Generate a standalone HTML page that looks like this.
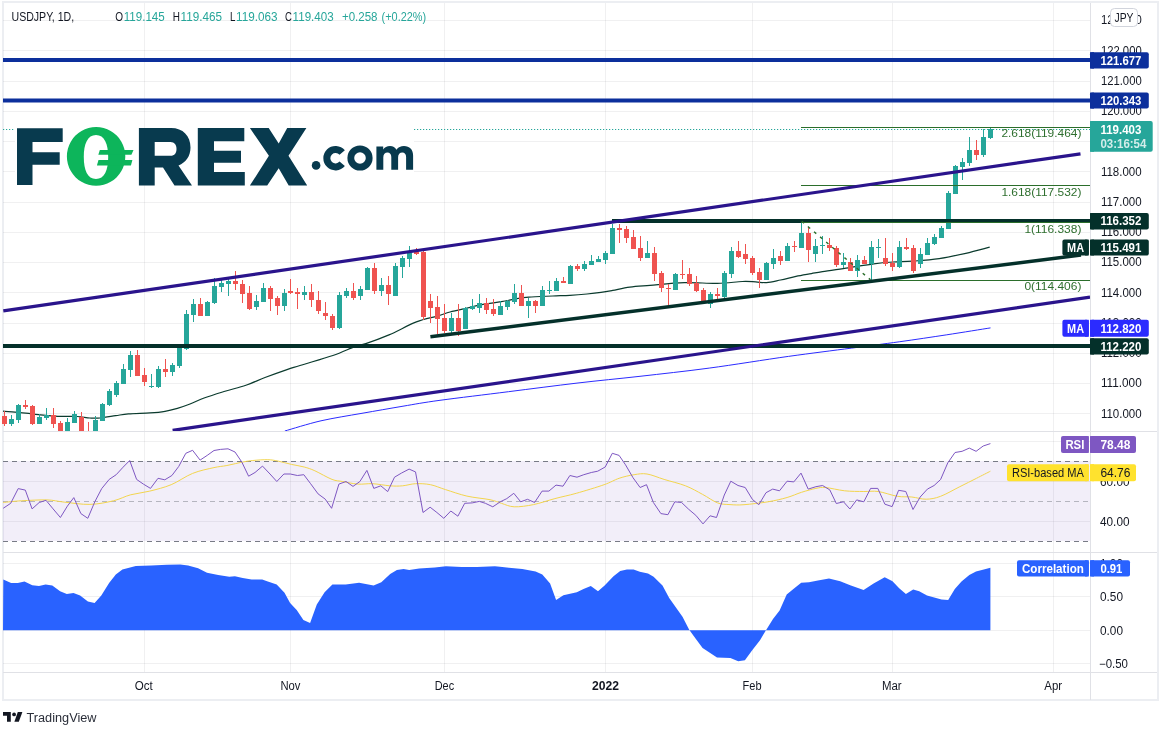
<!DOCTYPE html>
<html><head><meta charset="utf-8"><style>html,body{margin:0;padding:0;background:#fff;overflow:hidden}svg{display:block;will-change:transform}</style></head>
<body><svg width="1168" height="735" viewBox="0 0 1168 735" font-family='"Liberation Sans", sans-serif'><rect width="1168" height="735" fill="#fff"/><rect x="3" y="2" width="1155" height="698" fill="none" stroke="#eceef2" stroke-width="2"/><path d="M3 413.5H1090 M3 383.5H1090 M3 353.5H1090 M3 323.5H1090 M3 292.5H1090 M3 262.5H1090 M3 232.5H1090 M3 202.5H1090 M3 171.5H1090 M3 141.5H1090 M3 111.5H1090 M3 81.5H1090 M3 50.5H1090 M3 20.5H1090 M3 441.5H1090 M3 481.5H1090 M3 521.5H1090 M3 563.5H1090 M3 596.5H1090 M3 630.5H1090 M3 663.5H1090 M144.5 3V672 M290.5 3V672 M444.5 3V672 M605.5 3V672 M752.5 3V672 M892.5 3V672 M1053.5 3V672" stroke="rgba(42,46,57,0.07)" stroke-width="1" fill="none"/><rect x="3" y="461" width="1087" height="80" fill="#7e57c2" fill-opacity="0.1"/><path d="M3 461.5H1090 M3 541.5H1090" stroke="#787b86" stroke-width="1" stroke-dasharray="5 4" fill="none"/><path d="M3 501.5H1090" stroke="#787b86" stroke-opacity="0.5" stroke-width="1" stroke-dasharray="5 4" fill="none"/><path d="M3 630.2 L3.3 579.6 L11.1 583 L17.8 583 L24.5 581.6 L32.3 585.2 L39 586.1 L45.6 584.5 L52.3 585.6 L60.1 591.2 L66.8 594.1 L73.5 593 L80.1 595.6 L87.9 601.6 L94.6 603 L101.3 595.6 L109.1 583 L115.8 574.5 L122.4 569.6 L135.8 566 L151.4 565.6 L167 564.7 L180.3 564.5 L188.1 565.6 L198.1 568.3 L207 572.7 L218.2 574.9 L229.3 576.7 L234.9 576.3 L242.7 578 L251.6 579.4 L262.2 579.6 L267.8 581.6 L276.7 584.5 L284.5 592.7 L290.1 603 L296.7 610.1 L303.4 620.1 L310.1 623 L316.8 604.5 L324.6 592.3 L332.4 584.5 L345.7 584.5 L359.1 582.7 L373.6 585.6 L381.3 582.3 L390.2 574 L396.9 570 L403.6 568.9 L409.2 570 L419.2 568.5 L434.8 567.4 L445.9 566.3 L461.5 566.9 L477.1 566.9 L494.9 566.3 L500 566.7 L508.9 567.8 L522.3 568.9 L535.6 571.6 L542.3 574.5 L550.1 583.4 L556.1 600.1 L563.4 595.2 L576.8 592.3 L583.5 589 L590.8 586.1 L598 591.2 L604.6 585.6 L613.5 576.3 L620.2 571.1 L626.9 569.4 L633.6 569.6 L639.8 571.8 L648 573.4 L653.6 576.7 L662.5 585.6 L669.2 597.9 L682.5 616.8 L689.2 629.7 L695.9 639 L702.6 648 L717 657.5 L730.4 658 L738.2 661.3 L744.9 660.2 L752.2 650.2 L760 640.2 L766.3 629.7 L773 619 L779.6 610.6 L786.7 594.5 L793.4 589 L801.2 582.7 L809 582.3 L817.9 580.5 L829 578.5 L840.2 581.2 L850.2 585.2 L863.6 590.1 L873.6 583.4 L884.7 577.2 L892.5 581.2 L899.2 588.3 L905.9 594.1 L913.2 589.4 L919.2 591.2 L927 595.6 L941.5 599.4 L948.2 600.1 L954.8 589 L961.5 581.6 L969.3 574.9 L976 571.6 L983.8 569.6 L990.4 567.8 L990.4 630.2 Z" fill="#2962ff"/><path d="M3.2 502.5C6.2 502.2 14.1 501.2 21.4 500.8C28.7 500.4 39.9 499.7 47 499.9C54.1 500.1 57.1 501.4 64.2 502.1C71.4 502.9 81.7 504.6 89.9 504.4C98.1 504.2 106.6 502.4 113.4 500.8C120.2 499.2 124.5 496.4 130.6 494.8C136.7 493.2 143.0 492.8 149.8 491.1C156.6 489.4 164.1 487.6 171.2 484.7C178.3 481.8 185.5 476.2 192.6 473.4C199.7 470.5 208.3 468.9 214 467.6C219.7 466.3 221.9 466.5 226.9 465.5C231.9 464.5 239.7 462.6 244 461.8C248.3 461.0 248.8 460.9 252.8 460.5C256.8 460.1 263.5 459.6 267.8 459.7C272.1 459.8 274.6 460.4 278.5 461.2C282.4 462.0 287.1 463.4 291.4 464.4C295.7 465.4 300.3 465.9 304.2 467C308.1 468.1 310.3 468.7 314.9 470.8C319.5 472.9 327.4 477.6 332 479.4C336.6 481.2 338.4 480.7 342.7 481.5C347.0 482.3 352.7 483.7 357.7 484.1C362.7 484.5 367.3 483.4 372.7 483.7C378.1 484.0 384.8 485.4 389.8 485.8C394.8 486.2 398.4 486.2 402.7 485.8C407.0 485.4 410.9 483.9 415.5 483.7C420.1 483.5 425.5 483.7 430.5 484.7C435.5 485.7 439.4 487.7 445.5 489.6C451.6 491.5 459.5 494.4 466.9 496.1C474.3 497.8 484.2 498.5 490 499.7C495.8 500.9 497.4 502.1 501.4 503.3C505.4 504.5 508.9 506.6 514.2 506.8C519.6 507.0 526.7 506.0 533.5 504.6C540.3 503.2 547.8 500.5 554.9 498.6C562.0 496.7 568.1 495.6 576.3 493.3C584.5 491.0 597.0 487.2 604.1 484.7C611.2 482.2 614.1 480.0 619.1 478.3C624.1 476.6 629.5 475.4 634.1 474.7C638.8 474.0 642.0 473.2 647 474C652.0 474.8 657.7 477.4 664.1 479.4C670.5 481.4 679.1 483.3 685.5 485.8C691.9 488.3 697.2 491.5 702.6 494.4C708.0 497.2 713.0 501.2 717.6 502.9C722.2 504.6 725.6 504.3 730 504.6C734.4 504.9 737.7 505.2 744 504.7C750.3 504.2 760.8 503.0 768 501.8C775.2 500.6 781.5 499.1 787.1 497.5C792.7 495.9 796.7 493.8 801.5 492.3C806.3 490.8 811.9 489.2 815.9 488.4C819.9 487.6 820.7 487.1 825.5 487.5C830.3 487.9 838.3 490.1 844.7 490.8C851.1 491.5 858.2 491.4 863.8 491.5C869.4 491.6 872.6 490.7 878.2 491.5C883.8 492.3 891.8 495.4 897.4 496.3C903.0 497.2 907.0 496.5 911.8 497C916.6 497.5 921.4 499.3 926.2 499.2C931.0 499.1 935.0 498.4 940.6 496.3C946.2 494.2 953.8 489.7 959.8 486.7C965.8 483.7 971.4 480.9 976.5 478.3C981.6 475.7 988.1 472.4 990.4 471.2" fill="none" stroke="#f2d54e" stroke-width="1"/><polyline points="3.2,508.3 10.7,503.3 18.2,488.6 25.3,490.1 32.1,508.9 39.2,502.5 46,500.3 53.1,508.9 60.4,517.5 67.4,506.1 73.8,497.6 80.9,513.6 87.8,518.3 94.8,501.8 101.7,488.6 109.2,479.4 116.2,474.7 123.1,467.2 129.7,460.5 136.6,479.4 143.4,484.1 150.5,488.4 158,478.3 164.8,479.8 171.9,475.5 178.7,466.5 185.8,453.3 192.6,450.3 200.1,460.1 207.2,455.4 214,450.5 220.5,449.4 228,448.8 235,452 241.9,462.2 248.6,476.2 255,472.5 262.5,466.1 270,474 276.8,481.5 283.9,474 290.3,474 297.4,475.5 303.8,474.7 310.6,483.7 318.1,493.9 325.2,499.1 331.6,508.3 338.9,484.1 346,481.5 353,486.4 359.9,481.5 366.9,470.4 373.8,488.4 380.8,485.8 387.7,491.6 394.5,477.2 401.6,473 409.1,469.1 415.5,471.9 423,512.5 430.1,507.2 436.9,512.5 443.8,518.3 450.8,511 457.9,516.2 464.7,503.3 472.2,502.9 479.3,501.4 485.4,503.3 492.8,506.8 500.3,501.8 506.8,498.6 513.8,493.3 520.7,501.8 527.5,499.3 534.6,502.5 542.1,491.1 548.9,491.1 556,485.1 563,486.2 569.9,475.5 577,477.2 583.8,474.7 591.3,472.5 597.7,471.2 605.2,467 612.3,453.3 619.1,455.4 625.5,464.8 633,477.7 640.1,487.5 646.5,484.7 653.4,502.5 660.9,513.6 667.9,514.7 674.8,501.8 681.6,502.5 688.7,509.3 695.8,515.3 703,523.9 710.1,515.8 716.5,517.5 724.3,495 730.8,481.2 738,485.5 745.2,487.5 752.4,499.4 758.8,504.7 766,492.7 772.7,489.1 779.5,490.8 787.1,481.2 793.8,481.9 801,473.1 808.2,489.1 815.9,486.7 822.6,485.5 829.8,489.9 836.3,503.5 843.5,501.8 849.9,509 856.7,499.9 863.8,501.8 870.6,488.4 877.8,488.4 884.9,504.2 892.1,506.6 898.6,490.3 905.8,491.5 913,509.5 920.2,497 927.4,489.1 934.1,485.5 940.6,479.5 947.8,462.8 955,452.5 962.1,451.3 969.3,448.1 976.1,451.3 983.2,446 990.4,443.6" fill="none" stroke="#7e57c2" stroke-width="1" stroke-linejoin="round"/><rect x="15" y="120" width="399" height="72" fill="#fff"/><path d="M144.5 120V192 M290.5 120V192" stroke="rgba(42,46,57,0.07)" stroke-width="1"/><path d="M3 411.2C6.8 411.5 19.8 412.5 25.7 413.1C31.6 413.7 33.1 414.1 38.5 414.6C43.9 415.1 51.4 416.0 57.8 416.3C64.2 416.6 71.7 416.2 77 416.5C82.3 416.8 86.1 417.8 89.9 418C93.7 418.2 95.7 418.4 100 418C104.3 417.6 110.9 416.4 115.6 415.7C120.3 415.0 122.7 414.3 128.4 413.8C134.1 413.3 143.9 413.3 150 412.9C156.1 412.5 160.4 412.1 165 411.3C169.6 410.5 173.2 409.5 177.4 408.3C181.6 407.1 185.4 405.8 190 404C194.6 402.2 199.0 399.9 204.8 397.8C210.6 395.7 218.2 393.4 225 391.3C231.8 389.2 239.2 387.6 245.9 385.3C252.6 383.0 258.1 380.1 265 377.5C271.9 374.9 281.2 371.6 287 369.6C292.8 367.6 292.4 367.9 300 365.5C307.6 363.1 323.8 358.6 332.9 355.5C342.0 352.4 349.3 348.6 354.8 346.6C360.3 344.6 360.1 345.6 365.8 343.6C371.5 341.7 380.6 338.5 389 334.9C397.4 331.3 408.4 325.0 416.4 321.9C424.4 318.8 431.4 317.8 437 316.2C442.6 314.6 445.0 313.4 450 312C455.0 310.6 461.4 309.3 467.1 308C472.8 306.7 478.5 305.2 484.2 304.2C489.9 303.1 495.7 302.7 501.4 301.7C507.1 300.7 513.9 299.1 518.5 298.3C523.1 297.5 523.1 297.5 528.8 297.1C534.5 296.7 545.9 296.3 552.7 296C559.6 295.7 564.2 295.6 569.9 295.3C575.6 295.0 581.8 294.5 587 294C592.2 293.5 596.7 293.0 601 292.4C605.3 291.8 607.9 291.3 612.7 290.4C617.5 289.5 623.6 287.9 629.8 287.1C636.0 286.3 640.9 286.1 650 285.4C659.1 284.6 673.2 282.9 684.4 282.6C695.6 282.3 707.8 283.6 717.4 283.4C727.0 283.2 735.9 281.8 742.3 281.5C748.7 281.2 751.7 281.7 755.7 281.9C759.7 282.1 762.4 282.9 766.5 282.6C770.6 282.3 775.6 281.0 780.5 280C785.4 279.0 790.9 277.5 796 276.4C801.1 275.3 807.0 274.4 811.4 273.6C815.8 272.8 816.4 272.6 822.5 271.6C828.6 270.6 839.7 269.1 848.2 267.8C856.7 266.5 866.2 264.8 873.7 263.8C881.2 262.8 886.5 262.4 893 262C899.5 261.6 905.0 261.8 912.7 261.2C920.4 260.6 930.4 259.9 939.2 258.6C948.1 257.3 957.4 255.2 965.8 253.3C974.2 251.4 985.7 248.2 989.7 247.2" fill="none" stroke="#0b3b2e" stroke-width="1.2"/><path d="M284.8 431C290.8 429.3 308.1 423.8 321 420.8C333.9 417.9 348.3 415.7 362 413.3C375.7 410.9 390.0 408.4 403 406.2C416.0 404.0 422.4 402.7 440 400.3C457.6 397.9 485.7 394.6 508.5 391.7C531.3 388.8 555.1 385.7 577 383.1C598.9 380.5 618.0 378.8 640 376.3C662.0 373.8 684.5 371.4 709.2 368.1C733.9 364.8 764.6 359.7 788.4 356.4C812.1 353.1 833.2 350.5 851.7 348.1C870.2 345.7 883.4 344.0 899.2 341.8C915.1 339.6 931.6 337.1 946.8 334.8C962.0 332.5 983.2 329.0 990.5 327.9" fill="none" stroke="#2b2bff" stroke-width="1"/><g shape-rendering="crispEdges"><path d="M11 415h1v11h-1zM18 404h1v19h-1zM39 414h1v10h-1zM46 408h1v12h-1zM67 418h1v13h-1zM74 411h1v12h-1zM95 416h1v15h-1zM102 403h1v18h-1zM109 389h1v17h-1zM116 381h1v16h-1zM123 364h1v20h-1zM130 351h1v26h-1zM151 374h1v14h-1zM158 366h1v22h-1zM172 363h1v13h-1zM179 348h1v20h-1zM186 310h1v40h-1zM193 299h1v23h-1zM207 301h1v15h-1zM214 278h1v26h-1zM221 280h1v12h-1zM228 279h1v17h-1zM256 295h1v15h-1zM263 283h1v19h-1zM284 289h1v22h-1zM304 286h1v14h-1zM339 292h1v37h-1zM346 288h1v10h-1zM360 286h1v14h-1zM367 267h1v23h-1zM381 278h1v18h-1zM395 263h1v33h-1zM402 256h1v22h-1zM409 246h1v21h-1zM451 313h1v20h-1zM465 307h1v22h-1zM472 299h1v11h-1zM479 294h1v19h-1zM500 301h1v14h-1zM507 300h1v10h-1zM514 284h1v20h-1zM528 298h1v20h-1zM542 286h1v20h-1zM549 281h1v13h-1zM556 278h1v13h-1zM570 265h1v19h-1zM584 261h1v10h-1zM591 255h1v10h-1zM598 256h1v6h-1zM605 251h1v13h-1zM612 224h1v30h-1zM647 241h1v17h-1zM675 273h1v17h-1zM710 292h1v16h-1zM724 271h1v27h-1zM731 247h1v31h-1zM766 262h1v18h-1zM773 249h1v20h-1zM787 243h1v18h-1zM801 221h1v27h-1zM815 239h1v23h-1zM822 236h1v18h-1zM843 253h1v15h-1zM857 255h1v22h-1zM871 241h1v39h-1zM878 239h1v19h-1zM899 241h1v27h-1zM920 248h1v20h-1zM927 238h1v17h-1zM934 234h1v11h-1zM941 226h1v12h-1zM948 191h1v38h-1zM955 165h1v29h-1zM962 158h1v22h-1zM969 137h1v29h-1zM983 129h1v28h-1zM990 127h1v12h-1zM9 419h5v5h-5zM16 405h5v15h-5zM37 417h5v7h-5zM44 415h5v3h-5zM65 422h5v9h-5zM72 414h5v9h-5zM93 420h5v11h-5zM100 404h5v17h-5zM107 391h5v14h-5zM114 383h5v12h-5zM121 369h5v15h-5zM128 355h5v15h-5zM149 386h5v1h-5zM156 369h5v18h-5zM170 365h5v7h-5zM177 348h5v18h-5zM184 314h5v35h-5zM191 304h5v11h-5zM205 302h5v14h-5zM212 286h5v17h-5zM219 283h5v4h-5zM226 281h5v3h-5zM254 301h5v6h-5zM261 288h5v14h-5zM282 293h5v13h-5zM302 292h5v3h-5zM337 295h5v33h-5zM344 291h5v5h-5zM358 289h5v7h-5zM365 268h5v22h-5zM379 285h5v6h-5zM393 266h5v30h-5zM400 258h5v9h-5zM407 253h5v6h-5zM449 318h5v13h-5zM463 308h5v21h-5zM470 306h5v3h-5zM477 303h5v5h-5zM498 306h5v9h-5zM505 301h5v6h-5zM512 293h5v9h-5zM526 301h5v5h-5zM540 290h5v16h-5zM547 290h5v1h-5zM554 281h5v10h-5zM568 266h5v18h-5zM582 264h5v5h-5zM589 261h5v4h-5zM596 259h5v3h-5zM603 253h5v7h-5zM610 228h5v26h-5zM645 253h5v5h-5zM673 274h5v16h-5zM708 294h5v10h-5zM722 273h5v24h-5zM729 251h5v23h-5zM764 263h5v17h-5zM771 258h5v6h-5zM785 246h5v15h-5zM799 233h5v15h-5zM813 246h5v8h-5zM820 245h5v1h-5zM841 262h5v3h-5zM855 260h5v11h-5zM869 247h5v17h-5zM876 247h5v1h-5zM897 247h5v20h-5zM918 254h5v10h-5zM925 243h5v12h-5zM932 237h5v7h-5zM939 228h5v10h-5zM946 193h5v36h-5zM953 166h5v28h-5zM960 162h5v5h-5zM967 150h5v13h-5zM981 137h5v18h-5zM988 129h5v9h-5z" fill="#26a69a"/><path d="M4 411h1v15h-1zM25 400h1v9h-1zM32 405h1v20h-1zM53 408h1v20h-1zM60 421h1v10h-1zM81 412h1v19h-1zM88 422h1v9h-1zM137 350h1v26h-1zM144 368h1v18h-1zM165 359h1v18h-1zM200 298h1v18h-1zM235 271h1v19h-1zM242 280h1v23h-1zM249 286h1v24h-1zM270 286h1v25h-1zM277 296h1v19h-1zM290 279h1v15h-1zM297 288h1v21h-1zM311 284h1v23h-1zM318 291h1v23h-1zM325 302h1v18h-1zM332 314h1v16h-1zM353 283h1v17h-1zM374 263h1v31h-1zM388 276h1v29h-1zM416 248h1v7h-1zM423 251h1v69h-1zM430 294h1v29h-1zM437 296h1v38h-1zM444 304h1v29h-1zM458 304h1v32h-1zM486 298h1v16h-1zM493 299h1v17h-1zM521 285h1v21h-1zM535 300h1v13h-1zM563 277h1v6h-1zM577 264h1v7h-1zM619 224h1v19h-1zM626 226h1v17h-1zM633 230h1v19h-1zM640 236h1v25h-1zM654 247h1v34h-1zM661 271h1v21h-1zM668 284h1v21h-1zM682 260h1v19h-1zM689 268h1v18h-1zM696 276h1v16h-1zM703 288h1v16h-1zM717 288h1v11h-1zM738 241h1v17h-1zM745 244h1v20h-1zM752 256h1v19h-1zM759 268h1v20h-1zM780 251h1v14h-1zM794 241h1v11h-1zM808 227h1v35h-1zM829 238h1v13h-1zM836 246h1v21h-1zM850 258h1v13h-1zM864 256h1v8h-1zM885 238h1v28h-1zM892 253h1v18h-1zM906 238h1v12h-1zM913 245h1v28h-1zM976 140h1v20h-1zM2 416h5v8h-5zM23 405h5v2h-5zM30 406h5v18h-5zM51 415h5v9h-5zM58 423h5v8h-5zM79 417h5v14h-5zM86 431h5v1h-5zM135 355h5v21h-5zM142 375h5v7h-5zM163 369h5v3h-5zM198 304h5v12h-5zM233 281h5v3h-5zM240 284h5v10h-5zM247 293h5v16h-5zM268 288h5v11h-5zM275 298h5v8h-5zM288 291h5v2h-5zM295 292h5v2h-5zM309 292h5v8h-5zM316 300h5v11h-5zM323 313h5v3h-5zM330 316h5v12h-5zM351 291h5v7h-5zM372 268h5v23h-5zM386 285h5v9h-5zM414 252h5v2h-5zM421 252h5v65h-5zM428 301h5v7h-5zM435 307h5v12h-5zM442 318h5v13h-5zM456 318h5v13h-5zM484 303h5v7h-5zM491 309h5v5h-5zM519 293h5v13h-5zM533 301h5v5h-5zM561 281h5v2h-5zM575 266h5v3h-5zM617 228h5v2h-5zM624 229h5v9h-5zM631 237h5v12h-5zM638 248h5v10h-5zM652 253h5v21h-5zM659 273h5v15h-5zM666 288h5v1h-5zM680 274h5v1h-5zM687 274h5v10h-5zM694 283h5v8h-5zM701 290h5v11h-5zM715 294h5v2h-5zM736 251h5v6h-5zM743 254h5v5h-5zM750 258h5v15h-5zM757 272h5v8h-5zM778 256h5v5h-5zM792 246h5v1h-5zM806 233h5v17h-5zM827 245h5v3h-5zM834 248h5v17h-5zM848 262h5v9h-5zM862 260h5v4h-5zM883 258h5v6h-5zM890 263h5v4h-5zM904 247h5v2h-5zM911 248h5v23h-5zM974 150h5v5h-5z" fill="#ef5350"/></g><path d="M3 60H1090 M3 100.5H1090" stroke="#0c2f9c" stroke-width="4"/><path d="M612 221H1090 M3 346H1090" stroke="#04302a" stroke-width="4"/><path d="M801 127.5H1090 M801 185.5H1090 M801 222.5H1090 M801 280.5H1090" stroke="#2b6e2b" stroke-width="1.2"/><path d="M801.8 221.3L870.5 279.8" stroke="#2b6e2b" stroke-width="1.4" stroke-dasharray="3 5"/><path d="M3 129.5H15 M414 129.5H1090" stroke="#26a69a" stroke-width="1.2" stroke-dasharray="1.2 1.8"/><path d="M3.3 310.9L1080.5 153.8 M172.6 430.3L1090 297.2" stroke="#2a148c" stroke-width="3.2" stroke-linecap="butt"/><path d="M430.4 336.8L1081 255" stroke="#04302a" stroke-width="3.5"/><text x="1081.4" y="137.4" font-size="11.5" fill="#2f6f2f" text-anchor="end" font-weight="normal" textLength="80" lengthAdjust="spacingAndGlyphs">2.618(119.464)</text><text x="1081.4" y="195.6" font-size="11.5" fill="#2f6f2f" text-anchor="end" font-weight="normal" textLength="80" lengthAdjust="spacingAndGlyphs">1.618(117.532)</text><text x="1081.4" y="232.6" font-size="11.5" fill="#2f6f2f" text-anchor="end" font-weight="normal" textLength="57" lengthAdjust="spacingAndGlyphs">1(116.338)</text><text x="1081.4" y="290.0" font-size="11.5" fill="#2f6f2f" text-anchor="end" font-weight="normal" textLength="57" lengthAdjust="spacingAndGlyphs">0(114.406)</text><g fill="#083a4e">
<path d="M17 128.2H62.7V142H32.5V152.2H59.7V164.7H32.5V185.1H17Z"/>
<path fill-rule="evenodd" d="M138.9 128.1H171C183 128.1 190.5 136 190.5 147.5C190.5 156 186 162.5 178.5 165.5L192 185.6H174.5L163 167.4H154.7V185.6H138.9Z M154.7 142H170.5C174.5 142 176.5 145 176.5 149C176.5 153 174.5 155.8 170.5 155.8H154.7Z"/>
<path d="M197.8 128.1H244.3V141.2H214V150.8H241V162.8H214V172H244.8V185.6H197.8Z"/>
<path d="M249.9 128.1H268.7L278.7 143.5L287.2 128.1H306.4L288.5 155.8L307.2 185.6H288.7L278.7 168.2L267.2 185.6H249.9L268.9 155.8Z"/>
<circle cx="316.1" cy="165.4" r="4.3"/>
<path d="M342.2 152.6A8.7 8.7 0 1 0 342.2 163.8" fill="none" stroke="#083a4e" stroke-width="7"/>
<circle cx="360" cy="158" r="9.2" fill="none" stroke="#083a4e" stroke-width="6.8"/>
<path d="M376.4 169.7V146.6H383.2V149.5C384.5 147.5 387 146.1 390 146.1C393 146.1 395.3 147.5 396.5 149.8C398 147.4 400.8 146.1 404 146.1C409.5 146.1 413.1 149.6 413.1 155.5V169.7H406.1V157C406.1 154 404.6 152.4 402.3 152.4C399.8 152.4 398.1 154.2 398.1 157.2V169.7H391.3V157C391.3 154 389.8 152.4 387.5 152.4C385 152.4 383.3 154.2 383.3 157.2V169.7Z"/>
</g>
<g fill="#0db55b">
<path fill-rule="evenodd" d="M96.1 127A29.2 29.4 0 1 1 96.09 127Z M96 135C104.5 135 108.2 144 108.2 157C108.2 170 104.5 179 96 179C87.5 179 83.8 170 83.8 157C83.8 144 87.5 135 96 135Z"/>
<path d="M99.8 149.9H133.5L131.4 154.7H98.3Z"/>
<path d="M98.5 160.1H132.4L130.9 165.4H96.9Z"/>
</g>
<path d="M108.5 154.7V160.1 M125 149.5V165.6" stroke="#fff" stroke-width="0"/>
<text x="11.5" y="21" font-size="12" fill="#131722" text-anchor="start" font-weight="normal" textLength="62.7" lengthAdjust="spacingAndGlyphs">USDJPY, 1D,</text><text x="115.2" y="21" font-size="12" fill="#131722" text-anchor="start" font-weight="normal" textLength="7.8" lengthAdjust="spacingAndGlyphs">O</text><text x="123.7" y="21" font-size="12" fill="#26a69a" text-anchor="start" font-weight="normal" textLength="41.1" lengthAdjust="spacingAndGlyphs">119.145</text><text x="172.7" y="21" font-size="12" fill="#131722" text-anchor="start" font-weight="normal" textLength="7.2" lengthAdjust="spacingAndGlyphs">H</text><text x="180.5" y="21" font-size="12" fill="#26a69a" text-anchor="start" font-weight="normal" textLength="41.5" lengthAdjust="spacingAndGlyphs">119.465</text><text x="229.9" y="21" font-size="12" fill="#131722" text-anchor="start" font-weight="normal" textLength="5.4" lengthAdjust="spacingAndGlyphs">L</text><text x="236" y="21" font-size="12" fill="#26a69a" text-anchor="start" font-weight="normal" textLength="41.5" lengthAdjust="spacingAndGlyphs">119.063</text><text x="285" y="21" font-size="12" fill="#131722" text-anchor="start" font-weight="normal" textLength="6.9" lengthAdjust="spacingAndGlyphs">C</text><text x="292.6" y="21" font-size="12" fill="#26a69a" text-anchor="start" font-weight="normal" textLength="41.1" lengthAdjust="spacingAndGlyphs">119.403</text><text x="341.9" y="21" font-size="12" fill="#26a69a" text-anchor="start" font-weight="normal" textLength="35.6" lengthAdjust="spacingAndGlyphs">+0.258</text><text x="381.6" y="21" font-size="12" fill="#26a69a" text-anchor="start" font-weight="normal" textLength="44.6" lengthAdjust="spacingAndGlyphs">(+0.22%)</text><rect x="1091" y="3" width="66" height="669" fill="#fff"/><path d="M1090.5 3V700" stroke="#e0e1e6" stroke-width="1"/><text x="1100.9" y="54.7" font-size="12" fill="#131722" text-anchor="start" font-weight="normal" textLength="40.8" lengthAdjust="spacingAndGlyphs">122.000</text><text x="1100.9" y="85.0" font-size="12" fill="#131722" text-anchor="start" font-weight="normal" textLength="40.8" lengthAdjust="spacingAndGlyphs">121.000</text><text x="1100.9" y="115.2" font-size="12" fill="#131722" text-anchor="start" font-weight="normal" textLength="40.8" lengthAdjust="spacingAndGlyphs">120.000</text><text x="1100.9" y="175.7" font-size="12" fill="#131722" text-anchor="start" font-weight="normal" textLength="40.8" lengthAdjust="spacingAndGlyphs">118.000</text><text x="1100.9" y="206.0" font-size="12" fill="#131722" text-anchor="start" font-weight="normal" textLength="40.8" lengthAdjust="spacingAndGlyphs">117.000</text><text x="1100.9" y="236.2" font-size="12" fill="#131722" text-anchor="start" font-weight="normal" textLength="40.8" lengthAdjust="spacingAndGlyphs">116.000</text><text x="1100.9" y="266.4" font-size="12" fill="#131722" text-anchor="start" font-weight="normal" textLength="40.8" lengthAdjust="spacingAndGlyphs">115.000</text><text x="1100.9" y="296.7" font-size="12" fill="#131722" text-anchor="start" font-weight="normal" textLength="40.8" lengthAdjust="spacingAndGlyphs">114.000</text><text x="1100.9" y="326.9" font-size="12" fill="#131722" text-anchor="start" font-weight="normal" textLength="40.8" lengthAdjust="spacingAndGlyphs">113.000</text><text x="1100.9" y="357.2" font-size="12" fill="#131722" text-anchor="start" font-weight="normal" textLength="40.8" lengthAdjust="spacingAndGlyphs">112.000</text><text x="1100.9" y="387.4" font-size="12" fill="#131722" text-anchor="start" font-weight="normal" textLength="40.8" lengthAdjust="spacingAndGlyphs">111.000</text><text x="1100.9" y="417.7" font-size="12" fill="#131722" text-anchor="start" font-weight="normal" textLength="40.8" lengthAdjust="spacingAndGlyphs">110.000</text><text x="1100.9" y="24.4" font-size="12" fill="#131722" text-anchor="start" font-weight="normal" textLength="40.8" lengthAdjust="spacingAndGlyphs">123.000</text><text x="1100" y="486.1" font-size="12" fill="#131722" text-anchor="start" font-weight="normal" textLength="29.5" lengthAdjust="spacingAndGlyphs">60.00</text><text x="1100" y="526.0" font-size="12" fill="#131722" text-anchor="start" font-weight="normal" textLength="29.5" lengthAdjust="spacingAndGlyphs">40.00</text><text x="1100" y="567.8" font-size="12" fill="#131722" text-anchor="start" font-weight="normal" textLength="23" lengthAdjust="spacingAndGlyphs">1.00</text><text x="1100" y="600.8" font-size="12" fill="#131722" text-anchor="start" font-weight="normal" textLength="23" lengthAdjust="spacingAndGlyphs">0.50</text><text x="1100" y="634.8" font-size="12" fill="#131722" text-anchor="start" font-weight="normal" textLength="23" lengthAdjust="spacingAndGlyphs">0.00</text><text x="1099" y="667.8" font-size="12" fill="#131722" text-anchor="start" font-weight="normal" textLength="29" lengthAdjust="spacingAndGlyphs">−0.50</text><rect x="1090" y="52.2" width="58.8" height="16.4" rx="2" fill="#0c2f9c"/><rect x="1090" y="52.2" width="4" height="16.4" rx="0" fill="#0c2f9c"/><text x="1100.4" y="64.6" font-size="12" fill="#fff" text-anchor="start" font-weight="bold" textLength="41" lengthAdjust="spacingAndGlyphs">121.677</text><rect x="1090" y="92.6" width="58.8" height="16.0" rx="2" fill="#0c2f9c"/><rect x="1090" y="92.6" width="4" height="16.0" rx="0" fill="#0c2f9c"/><text x="1100.4" y="104.8" font-size="12" fill="#fff" text-anchor="start" font-weight="bold" textLength="41" lengthAdjust="spacingAndGlyphs">120.343</text><rect x="1090" y="213.1" width="58.8" height="16.3" rx="2" fill="#04302a"/><rect x="1090" y="213.1" width="4" height="16.3" rx="0" fill="#04302a"/><text x="1100.4" y="225.4" font-size="12" fill="#fff" text-anchor="start" font-weight="bold" textLength="41" lengthAdjust="spacingAndGlyphs">116.352</text><rect x="1062.4" y="239.6" width="26.4" height="15.9" rx="2" fill="#04302a"/><rect x="1085" y="239.6" width="3.8" height="15.9" rx="0" fill="#04302a"/><rect x="1090" y="239.6" width="58.8" height="15.9" rx="2" fill="#04302a"/><rect x="1090" y="239.6" width="4" height="15.9" rx="0" fill="#04302a"/><text x="1075.6" y="251.8" font-size="12" fill="#fff" text-anchor="middle" font-weight="bold" textLength="17" lengthAdjust="spacingAndGlyphs">MA</text><text x="1100.4" y="251.8" font-size="12" fill="#fff" text-anchor="start" font-weight="bold" textLength="41" lengthAdjust="spacingAndGlyphs">115.491</text><rect x="1062.4" y="319.8" width="26.4" height="17.0" rx="2" fill="#2b2bff"/><rect x="1085" y="319.8" width="3.8" height="17.0" rx="0" fill="#2b2bff"/><rect x="1090" y="319.8" width="58.8" height="17.0" rx="2" fill="#2b2bff"/><rect x="1090" y="319.8" width="4" height="17.0" rx="0" fill="#2b2bff"/><text x="1075.6" y="332.5" font-size="12" fill="#fff" text-anchor="middle" font-weight="bold" textLength="17" lengthAdjust="spacingAndGlyphs">MA</text><text x="1100.4" y="332.5" font-size="12" fill="#fff" text-anchor="start" font-weight="bold" textLength="41" lengthAdjust="spacingAndGlyphs">112.820</text><rect x="1090" y="338.3" width="58.8" height="16.3" rx="2" fill="#04302a"/><rect x="1090" y="338.3" width="4" height="16.3" rx="0" fill="#04302a"/><text x="1100.4" y="350.7" font-size="12" fill="#fff" text-anchor="start" font-weight="bold" textLength="41" lengthAdjust="spacingAndGlyphs">112.220</text><rect x="1090" y="121.1" width="62.7" height="30.7" rx="2" fill="#26a69a"/><rect x="1090" y="121.1" width="4" height="30.7" rx="0" fill="#26a69a"/><text x="1100.4" y="133.8" font-size="12" fill="#fff" text-anchor="start" font-weight="bold" textLength="41" lengthAdjust="spacingAndGlyphs">119.403</text><text x="1100.4" y="147.5" font-size="12" fill="#fff" text-anchor="start" font-weight="bold" textLength="46" lengthAdjust="spacingAndGlyphs" fill-opacity="0.8">03:16:54</text><rect x="1061" y="436.1" width="27.8" height="16.8" rx="2" fill="#7e57c2"/><rect x="1085" y="436.1" width="3.8" height="16.8" rx="0" fill="#7e57c2"/><rect x="1090" y="436.1" width="46" height="16.8" rx="2" fill="#7e57c2"/><rect x="1090" y="436.1" width="4" height="16.8" rx="0" fill="#7e57c2"/><text x="1074.9" y="448.7" font-size="12" fill="#fff" text-anchor="middle" font-weight="bold" textLength="19" lengthAdjust="spacingAndGlyphs">RSI</text><text x="1100.4" y="448.7" font-size="12" fill="#fff" text-anchor="start" font-weight="bold" textLength="30" lengthAdjust="spacingAndGlyphs">78.48</text><rect x="1007" y="464.2" width="81.8" height="17.0" rx="2" fill="#ffe22e"/><rect x="1085" y="464.2" width="3.8" height="17.0" rx="0" fill="#ffe22e"/><rect x="1090" y="464.2" width="46" height="17.0" rx="2" fill="#ffe22e"/><rect x="1090" y="464.2" width="4" height="17.0" rx="0" fill="#ffe22e"/><text x="1047.9" y="476.9" font-size="12" fill="#131722" text-anchor="middle" font-weight="normal" textLength="72" lengthAdjust="spacingAndGlyphs">RSI-based MA</text><text x="1100.4" y="476.9" font-size="12" fill="#131722" text-anchor="start" font-weight="normal" textLength="30" lengthAdjust="spacingAndGlyphs">64.76</text><rect x="1017" y="560.2" width="71.8" height="16.3" rx="2" fill="#2962ff"/><rect x="1085" y="560.2" width="3.8" height="16.3" rx="0" fill="#2962ff"/><rect x="1090" y="560.2" width="40" height="16.3" rx="2" fill="#2962ff"/><rect x="1090" y="560.2" width="4" height="16.3" rx="0" fill="#2962ff"/><text x="1052.9" y="572.6" font-size="12" fill="#fff" text-anchor="middle" font-weight="bold" textLength="62" lengthAdjust="spacingAndGlyphs">Correlation</text><text x="1100.4" y="572.6" font-size="12" fill="#fff" text-anchor="start" font-weight="bold" textLength="22" lengthAdjust="spacingAndGlyphs">0.91</text><rect x="1110.5" y="8.5" width="27" height="18" rx="4" fill="#fff" stroke="#d1d4dc"/><text x="1124" y="21.5" font-size="12" fill="#131722" text-anchor="middle" font-weight="normal" textLength="19" lengthAdjust="spacingAndGlyphs">JPY</text><path d="M3 431.5H1157 M3 552.5H1157 M3 672.5H1157" stroke="#e0e1e6" stroke-width="1"/><text x="143.7" y="690" font-size="12" fill="#131722" text-anchor="middle" font-weight="normal" textLength="18" lengthAdjust="spacingAndGlyphs">Oct</text><text x="290.5" y="690" font-size="12" fill="#131722" text-anchor="middle" font-weight="normal" textLength="20" lengthAdjust="spacingAndGlyphs">Nov</text><text x="444.4" y="690" font-size="12" fill="#131722" text-anchor="middle" font-weight="normal" textLength="19.4" lengthAdjust="spacingAndGlyphs">Dec</text><text x="605.5" y="690" font-size="12" fill="#131722" text-anchor="middle" font-weight="bold" textLength="27" lengthAdjust="spacingAndGlyphs">2022</text><text x="752.1" y="690" font-size="12" fill="#131722" text-anchor="middle" font-weight="normal" textLength="19" lengthAdjust="spacingAndGlyphs">Feb</text><text x="891.8" y="690" font-size="12" fill="#131722" text-anchor="middle" font-weight="normal" textLength="19.7" lengthAdjust="spacingAndGlyphs">Mar</text><text x="1053.2" y="690" font-size="12" fill="#131722" text-anchor="middle" font-weight="normal" textLength="17.8" lengthAdjust="spacingAndGlyphs">Apr</text><g fill="#131722"><path d="M3 712H10.8V721.7H7V715.8H3Z"/><circle cx="14.1" cy="714.4" r="1.9"/><path d="M17.8 712H22.4L18.8 721.7H14.4Z"/></g><text x="26.5" y="721.6" font-size="12.5" fill="#2a2e39" text-anchor="start" font-weight="normal" textLength="70" lengthAdjust="spacingAndGlyphs">TradingView</text></svg></body></html>
